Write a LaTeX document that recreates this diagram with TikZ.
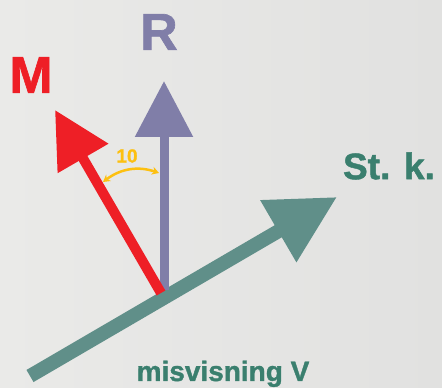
\documentclass[tikz,border=0pt]{standalone}
\usepackage{fontspec}
\setmainfont{Liberation Sans}
\newfontfamily\heavy[FakeBold=1.2]{Liberation Sans Bold}
\usepackage{xcolor}
\usetikzlibrary{arrows.meta,positioning,calc}
\definecolor{bgleft}{RGB}{234,234,232}
\definecolor{bgright}{RGB}{225,225,224}
\definecolor{rettv}{RGB}{128,126,168}
\definecolor{magn}{RGB}{238,31,38}
\definecolor{kurs}{RGB}{96,143,137}
\definecolor{kurstxt}{RGB}{58,127,110}
\definecolor{vink}{RGB}{253,192,16}
\tikzset{
  lbl/.style={font=\heavy\fontsize{52}{52}\selectfont,inner sep=0pt},
  vec/.style={line width=#1,line cap=butt},
}

\begin{document}
\begin{tikzpicture}[x=1pt,y=1pt]
\useasboundingbox (0,0) rectangle (442,388);
\shade[left color=bgleft,right color=bgright] (0,0) rectangle (442,388);
\coordinate (origin) at (161,95);
% steered course
\coordinate (stail) at (30,12);
\coordinate (stip) at (337,191);
\draw[vec=14pt,kurs,-{Triangle[length=68pt,width=68pt]}] (stail) -- (stip);
% true north
\coordinate (rtip) at (164,307);
\draw[vec=9pt,rettv,-{Triangle[length=56pt,width=56pt]}] (164,98) -- (rtip);
% magnetic north
\coordinate (mtip) at (55,278);
\draw[vec=10pt,magn,-{Triangle[length=56pt,width=56pt]}] (origin) -- (mtip);
% labels
\node[lbl,text=rettv] (R) at (159,356) {R};
\node[lbl,text=magn] (M) at (31,313) {M};
\node[lbl,text=kurstxt,font=\heavy\fontsize{37}{37}\selectfont] (stk) at (389,222) {St. k.};
\node[lbl,text=kurstxt,font=\heavy\fontsize{28}{28}\selectfont,anchor=base] (misv) at (223,7) {misvisning V};
% angle between R and M
\coordinate (arcR) at (159,215);
\coordinate (arcM) at (103,206);
\draw[vink,line width=2.5pt,{Stealth[length=7pt,width=8pt]}-{Stealth[length=7pt,width=8pt]}] (arcR) to[bend right=28] (arcM);
\node[text=vink,font=\heavy\fontsize{19}{19}\selectfont] (ang) at (127,232) {10};
\end{tikzpicture}
\end{document}
